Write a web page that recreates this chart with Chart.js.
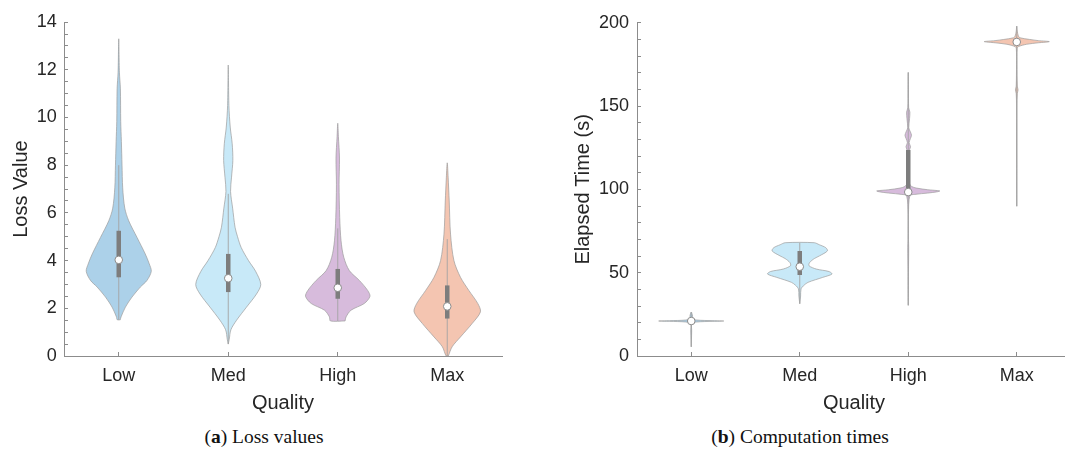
<!DOCTYPE html>
<html lang="en">
<head>
  <meta charset="UTF-8" />
  <title>Loss values and computation times</title>
  <script src="https://cdn.jsdelivr.net/npm/chart.js"></script>
  <style>
    html, body {
      margin: 0;
      padding: 0;
      background: #ffffff;
      overflow: hidden;
      width: 1065px;
      height: 459px;
    }
    .panel {
      position: absolute;
      top: 0;
    }
    .caption {
      position: absolute;
      top: 426px;
      font-family: 'Liberation Serif', 'DejaVu Serif', serif;
      font-size: 19.5px;
      line-height: 22px;
      color: #111;
      text-align: center;
    }
  </style>
</head>
<body>
  <div class="panel" style="left:0px;">
    <canvas id="lossChart" width="530" height="420"></canvas>
  </div>
  <div class="panel" style="left:550px;">
    <canvas id="timeChart" width="526" height="420"></canvas>
  </div>
  <div class="caption" style="left:0px; width:528px;">(<b>a</b>) Loss values</div>
  <div class="caption" style="left:550px; width:500px;">(<b>b</b>) Computation times</div>

<script>
  const categories = ['Low', 'Med', 'High', 'Max'];
  const lossTicks = [0, 2, 4, 6, 8, 10, 12, 14];
  const timeTicks = [0, 50, 100, 150, 200];

  // violin outlines: value levels and half widths (share of one category step)
  const lossLowLevels = [1.52, 1.64, 2.05, 2.47, 2.89, 3.17, 3.55, 3.86, 4.28, 4.97, 5.67, 6.2, 7.05, 8.0, 9.0, 9.83, 11.2, 11.9, 13.3];
  const lossLowWidths = [0.014, 0.021, 0.061, 0.121, 0.197, 0.258, 0.297, 0.279, 0.242, 0.167, 0.091, 0.055, 0.036, 0.03, 0.024, 0.018, 0.015, 0.006, 0];
  const lossMedLevels = [0.5, 0.7, 1.1, 1.5, 2.05, 2.6, 3.0, 3.55, 4.0, 4.55, 5.0, 5.4, 6.2, 6.9, 7.5, 8.2, 8.9, 9.6, 10.5, 12.2];
  const lossMedWidths = [0, 0.009, 0.024, 0.076, 0.167, 0.258, 0.297, 0.25, 0.185, 0.118, 0.085, 0.062, 0.04, 0.021, 0.03, 0.042, 0.036, 0.018, 0.006, 0];
  const lossHighLevels = [1.47, 1.64, 1.92, 2.2, 2.5, 2.75, 3.17, 3.58, 4.14, 4.83, 5.8, 7.2, 8.3, 9.2, 9.76];
  const lossHighWidths = [0.067, 0.076, 0.121, 0.242, 0.294, 0.273, 0.197, 0.106, 0.055, 0.03, 0.018, 0.012, 0.016, 0.006, 0];
  const lossMaxLevels = [0.0, 0.39, 0.8, 1.36, 1.85, 2.2, 2.75, 3.3, 4.0, 5.11, 6.5, 7.5, 8.1];
  const lossMaxWidths = [0.01, 0.045, 0.121, 0.227, 0.303, 0.279, 0.197, 0.121, 0.061, 0.03, 0.018, 0.008, 0];

  const lossMedians = [4.03, 3.26, 2.86, 2.08];
  const lossQ1 = [3.3, 2.68, 2.4, 1.57];
  const lossQ3 = [5.25, 4.28, 3.65, 2.96];
  const lossLow = [1.52, 0.5, 1.47, 0.0];
  const lossHigh = [8.0, 6.8, 5.35, 4.9];

  const timeLowLevels = [5.5, 10, 15, 19.5, 20.4, 20.8, 21.0, 21.2, 21.6, 22.5, 24, 26.4];
  const timeLowWidths = [0, 0.002, 0.004, 0.006, 0.05, 0.2, 0.3, 0.2, 0.05, 0.01, 0.012, 0];
  const timeMedLevels = [31.4, 36, 40.3, 42.5, 44.2, 47.2, 49.2, 50.7, 52.2, 54.2, 56.1, 58.5, 60.1, 63.1, 65, 66.8, 68];
  const timeMedWidths = [0, 0.008, 0.012, 0.04, 0.076, 0.212, 0.297, 0.27, 0.152, 0.085, 0.091, 0.135, 0.182, 0.255, 0.24, 0.18, 0.134];
  const timeHighLevels = [30.4, 40, 50, 65, 70, 85, 96.2, 97.0, 97.8, 98.6, 99.1, 99.8, 100.8, 101.8, 104, 115, 123, 125.6, 128, 130.5, 132.5, 134.5, 137, 142.5, 146.4, 149, 160, 170.2];
  const timeHighWidths = [0, 0.002, 0.002, 0.004, 0.002, 0.002, 0.015, 0.06, 0.18, 0.27, 0.29, 0.18, 0.076, 0.03, 0.01, 0.006, 0.008, 0.021, 0.008, 0.02, 0.03, 0.02, 0.005, 0.012, 0.015, 0.004, 0.002, 0];
  const timeMaxLevels = [89.9, 120, 150, 157.5, 159.7, 162, 175, 184.5, 185.7, 187.1, 188.0, 188.7, 189.3, 190, 191, 192, 195, 198];
  const timeMaxWidths = [0, 0.002, 0.002, 0.005, 0.012, 0.005, 0.002, 0.004, 0.015, 0.09, 0.2, 0.3, 0.2, 0.12, 0.03, 0.015, 0.005, 0];

  const timeMedians = [21.0, 53.6, 98.4, 188.5];
  const timeQ1 = [20.7, 48.6, 99.0, 187.8];
  const timeQ3 = [21.3, 63.1, 123.6, 189.2];
  const timeLow = [5.5, 31.4, 30.4, 89.9];
  const timeHigh = [26.4, 68, 170.2, 198];

  const violinColors = ['#acd1e9', '#c8e9f8', '#d7bbdc', '#f4c5b1'];
  const axisColor = '#8c8c8c';
  const textColor = '#262626';
  const fontFamily = "'Liberation Sans', Arial, sans-serif";

  // closed outline: right side upwards, left side back down
  function outline(center, levels, widths) {
    const pts = levels.map((y, i) => ({ x: center + widths[i], y: y }));
    for (let i = levels.length - 1; i >= 0; i--) {
      if (widths[i] === 0) continue;
      pts.push({ x: center - widths[i], y: levels[i] });
    }
    pts.push({ x: pts[0].x, y: pts[0].y });
    return pts;
  }

  function buildDatasets(levelsList, widthsList, q1, q3, lo, hi, med) {
    const sets = [];
    categories.forEach((name, i) => {
      const x = i + 1;
      sets.push({
        label: name,
        data: outline(x, levelsList[i], widthsList[i]),
        showLine: true,
        fill: 'shape',
        backgroundColor: violinColors[i],
        borderColor: '#9c9c9c',
        borderWidth: 0.7,
        pointRadius: 0,
        tension: 0.3,
        order: 4
      });
      sets.push({
        data: [{ x: x, y: lo[i] }, { x: x, y: hi[i] }],
        showLine: true,
        borderColor: '#a3a3a3',
        borderWidth: 0.9,
        pointRadius: 0,
        order: 3
      });
      sets.push({
        data: [{ x: x, y: q1[i] }, { x: x, y: q3[i] }],
        showLine: true,
        borderColor: '#7d7d7d',
        borderWidth: 4.5,
        pointRadius: 0,
        order: 2
      });
      sets.push({
        data: [{ x: x, y: med[i] }],
        showLine: false,
        pointRadius: 3.8,
        pointBackgroundColor: '#ffffff',
        pointBorderColor: '#8c8c8c',
        pointBorderWidth: 1,
        order: 1
      });
    });
    return sets;
  }

  function makeChart(canvasId, datasets, yMax, minorStep, majorTicks, yTitle, yWidth, yTitlePad, yTickPad, padRight) {
    const ctx = document.getElementById(canvasId).getContext('2d');
    return new Chart(ctx, {
      type: 'scatter',
      data: { datasets: datasets },
      options: {
        responsive: false,
        animation: false,
        layout: { padding: { left: 0, top: 20, right: padRight, bottom: 0 } },
        plugins: { legend: { display: false }, tooltip: { enabled: false } },
        scales: {
          x: {
            type: 'linear',
            min: 0.5,
            max: 4.5,
            afterBuildTicks: s => { s.ticks = categories.map((c, i) => ({ value: i + 1 })); },
            afterFit: s => { s.height = 64; },
            ticks: {
              autoSkip: false,
              maxRotation: 0,
              padding: 13,
              color: textColor,
              font: { family: fontFamily, size: 18 },
              callback: (v, i) => categories[i]
            },
            grid: { drawOnChartArea: false, drawTicks: true, tickLength: -4, tickColor: axisColor },
            border: { display: true, color: axisColor, width: 1 },
            title: {
              display: true,
              text: 'Quality',
              color: textColor,
              font: { family: fontFamily, size: 20 },
              padding: { top: 0, bottom: 5 }
            }
          },
          y: {
            type: 'linear',
            min: 0,
            max: yMax,
            afterBuildTicks: s => {
              const t = [];
              for (let v = 0; v <= yMax; v += minorStep) t.push({ value: v });
              s.ticks = t;
            },
            afterFit: s => { s.width = yWidth; },
            ticks: {
              autoSkip: false,
              padding: yTickPad,
              color: textColor,
              font: { family: fontFamily, size: 18 },
              callback: v => majorTicks.includes(v) ? String(v) : ''
            },
            grid: { drawOnChartArea: false, drawTicks: true, tickLength: -4, tickColor: axisColor },
            border: { display: true, color: axisColor, width: 1 },
            title: {
              display: true,
              text: yTitle,
              color: textColor,
              font: { family: fontFamily, size: 20 },
              padding: { top: yTitlePad, bottom: 0 }
            }
          }
        }
      }
    });
  }

  const lossSets = buildDatasets(
    [lossLowLevels, lossMedLevels, lossHighLevels, lossMaxLevels],
    [lossLowWidths, lossMedWidths, lossHighWidths, lossMaxWidths],
    lossQ1, lossQ3, lossLow, lossHigh, lossMedians);
  const timeSets = buildDatasets(
    [timeLowLevels, timeMedLevels, timeHighLevels, timeMaxLevels],
    [timeLowWidths, timeMedWidths, timeHighWidths, timeMaxWidths],
    timeQ1, timeQ3, timeLow, timeHigh, timeMedians);

  makeChart('lossChart', lossSets, 14, 0.5, lossTicks, 'Loss Value', 64, 9.5, 11.3, 28);
  makeChart('timeChart', timeSets, 200, 10, timeTicks, 'Elapsed Time (s)', 87, 21, 12, 0);
</script>
</body>
</html>
